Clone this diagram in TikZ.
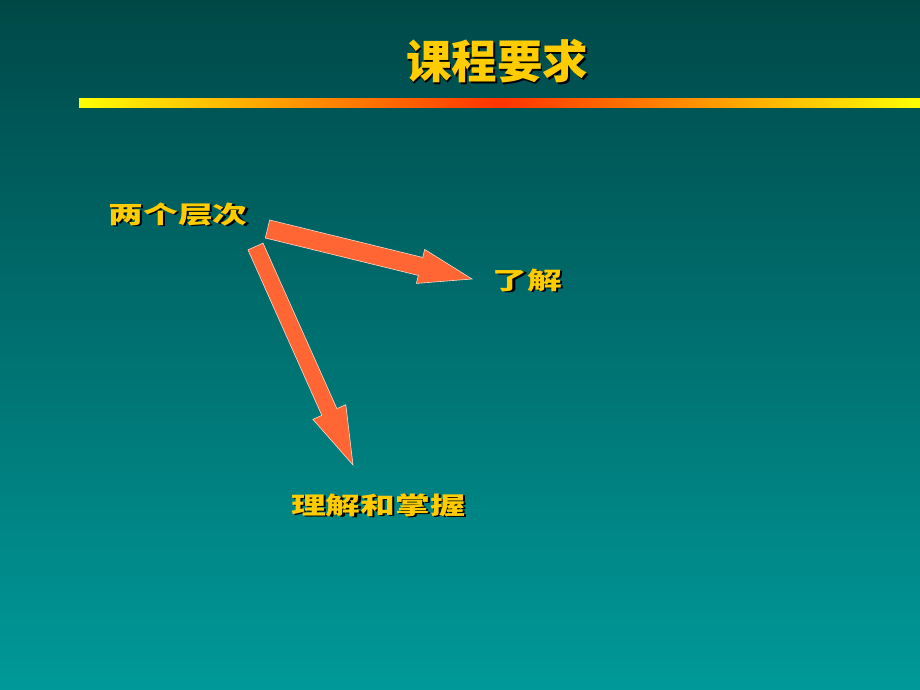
\documentclass[tikz,border=0pt]{standalone}
\usepackage{fontspec}
\newfontfamily\cjk{Noto Sans CJK SC}
\usetikzlibrary{calc}
\definecolor{bgtop}{RGB}{0,72,72}
\definecolor{bgbot}{RGB}{0,153,153}
\definecolor{barmid}{RGB}{255,51,0}
\definecolor{arrowfill}{RGB}{255,102,51}
\definecolor{gold}{RGB}{255,204,0}
\newcommand\shadowed[1]{\makebox[0pt][l]{\kern1.6pt\raisebox{-1.6pt}{\color{black}#1}}#1}
\newcommand\blockarrow[5]{%
  \coordinate (bah) at ($(#2)!#5!(#1)$);
  \draw[blockarrowstyle] ($(#1)!#3/2!90:(#2)$) -- ($(bah)!#3/2!90:(#2)$) -- ($(bah)!#4/2!90:(#2)$) -- (#2)
    -- ($(bah)!#4/2!-90:(#2)$) -- ($(bah)!#3/2!-90:(#2)$) -- ($(#1)!#3/2!-90:(#2)$) -- cycle;}
\begin{document}
\begin{tikzpicture}[x=1pt,y=-1pt,
  titletext/.style={inner sep=0pt,text=gold,font=\cjk\bfseries\fontsize{45.5}{45.5}\selectfont},
  labeltext/.style={inner sep=0pt,text=gold,xscale=1.45,font=\cjk\bfseries\fontsize{24}{24}\selectfont},
  blockarrowstyle/.style={fill=arrowfill,draw=white!75!arrowfill,line width=0.6pt,line join=miter}]
\shade[top color=bgtop,bottom color=bgbot] (0,0) rectangle (920,690);
\useasboundingbox (0,0) rectangle (920,690);
\shade[left color=yellow,right color=yellow,middle color=barmid] (79,99) rectangle (920,108);
\node[titletext] (title) at (497,62) {\shadowed{课程要求}};
\node[labeltext] (two) at (178,215) {\shadowed{两个层次}};
\node[labeltext] (know) at (527.5,281) {\shadowed{了解}};
\node[labeltext] (master) at (378,506) {\shadowed{理解和掌握}};
\coordinate (a1s) at (267.5,229);
\coordinate (a1t) at (472,279);
\coordinate (a2s) at (255.5,246.5);
\coordinate (a2t) at (353,465);
\blockarrow{a1s}{a1t}{18.5pt}{35pt}{53pt}
\blockarrow{a2s}{a2t}{16.5pt}{36pt}{58pt}
\end{tikzpicture}
\end{document}
